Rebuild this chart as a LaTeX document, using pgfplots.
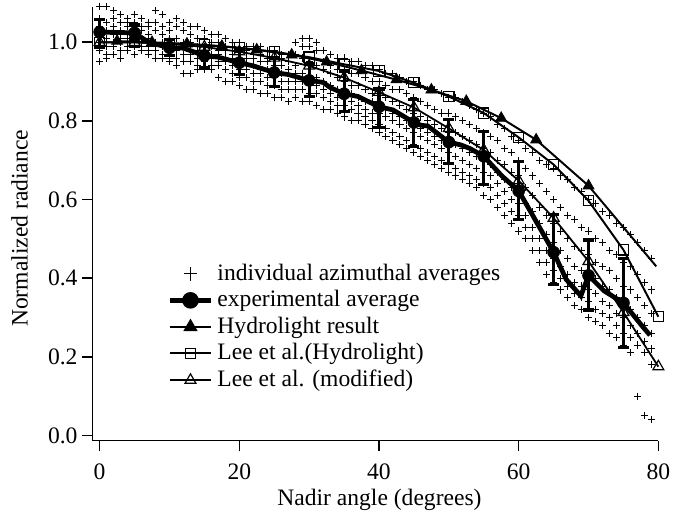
\documentclass[border=0pt]{standalone}
\usepackage{fontspec}
\setmainfont{Liberation Serif}
\usepackage{pgfplots}
\usepackage{pgfplotstable}
\pgfplotsset{compat=1.18}

\pgfplotstableread{
x a b c d e f g
0 1.09 1.06 1.04 1.02 1.00 0.98 0.95
1 1.09 1.05 1.03 1.01 0.99 0.97 0.96
2 1.08 1.06 1.04 1.02 1.00 0.99 0.97
3 1.07 1.05 1.03 1.01 1.00 0.98 0.96
4 1.06 1.05 1.04 1.02 1.01 0.99 0.98
5 1.07 1.05 1.03 1.02 1.00 0.99 0.97
6 1.06 1.04 1.03 1.01 1.00 0.99 0.98
7 1.05 1.04 1.02 1.01 0.99 0.98 0.97
8 1.08 1.05 1.03 1.00 0.99 0.98 0.96
9 1.07 1.04 1.02 1.00 0.99 0.97 0.96
10 1.05 1.03 1.01 0.99 0.98 0.96 0.95
11 1.06 1.04 1.01 0.99 0.98 0.96 0.94
12 1.05 1.03 1.00 0.99 0.97 0.95 0.92
13 1.04 1.02 1.00 0.98 0.97 0.95 0.92
14 1.04 1.01 0.99 0.98 0.96 0.94 0.93
15 1.03 1.01 0.99 0.98 0.96 0.95 0.93
16 1.02 1.00 0.99 0.97 0.96 0.94 0.93
17 1.02 1.00 0.98 0.97 0.95 0.94 0.91
18 1.01 0.99 0.98 0.96 0.95 0.93 0.90
19 1.00 0.99 0.97 0.96 0.94 0.92 0.90
20 1.00 0.98 0.97 0.95 0.93 0.91 0.89
21 0.99 0.98 0.96 0.94 0.93 0.91 0.88
22 0.99 0.97 0.96 0.94 0.92 0.90 0.88
23 0.99 0.97 0.95 0.93 0.92 0.90 0.87
24 0.98 0.96 0.95 0.93 0.91 0.89 0.87
25 0.98 0.96 0.94 0.92 0.91 0.89 0.86
26 0.97 0.96 0.94 0.92 0.90 0.88 0.86
27 0.97 0.95 0.93 0.92 0.90 0.88 0.85
28 1.00 0.97 0.94 0.92 0.90 0.88 0.86
29 1.01 0.99 0.96 0.92 0.90 0.88 0.85
30 1.01 0.99 0.95 0.91 0.89 0.87 0.85
31 1.00 0.98 0.94 0.91 0.89 0.87 0.84
32 0.98 0.95 0.93 0.90 0.88 0.86 0.83
33 0.97 0.94 0.92 0.89 0.87 0.85 0.83
34 0.96 0.93 0.91 0.88 0.86 0.84 0.82
35 0.96 0.93 0.90 0.88 0.86 0.84 0.81
36 0.95 0.92 0.89 0.87 0.85 0.83 0.80
37 0.95 0.92 0.89 0.86 0.84 0.82 0.80
38 0.94 0.91 0.88 0.85 0.83 0.81 0.79
39 0.94 0.90 0.87 0.85 0.82 0.80 0.78
40 0.93 0.90 0.87 0.84 0.82 0.79 0.77
41 0.92 0.89 0.86 0.83 0.81 0.78 0.76
42 0.92 0.88 0.85 0.82 0.80 0.77 0.75
43 0.91 0.88 0.84 0.81 0.79 0.76 0.74
44 0.90 0.87 0.83 0.80 0.78 0.75 0.73
45 0.90 0.86 0.82 0.79 0.77 0.74 0.72
46 0.89 0.85 0.81 0.78 0.76 0.73 0.71
47 0.88 0.84 0.80 0.77 0.75 0.72 0.70
48 0.88 0.83 0.79 0.76 0.74 0.71 0.69
49 0.87 0.82 0.78 0.75 0.73 0.70 0.68
50 0.86 0.82 0.77 0.74 0.72 0.69 0.67
51 0.86 0.81 0.77 0.74 0.71 0.68 0.66
52 0.85 0.80 0.76 0.73 0.70 0.67 0.65
53 0.84 0.79 0.75 0.72 0.69 0.66 0.64
54 0.83 0.78 0.74 0.71 0.68 0.65 0.63
55 0.82 0.77 0.73 0.70 0.67 0.64 0.61
56 0.81 0.76 0.72 0.69 0.66 0.63 0.60
57 0.79 0.75 0.70 0.67 0.64 0.61 0.58
58 0.78 0.73 0.69 0.65 0.62 0.59 0.56
59 0.76 0.72 0.67 0.63 0.60 0.57 0.54
60 0.75 0.70 0.66 0.62 0.59 0.56 0.52
61 0.73 0.68 0.63 0.59 0.56 0.53 0.50
62 0.72 0.66 0.61 0.57 0.53 0.50 0.47
63 0.70 0.64 0.58 0.54 0.50 0.47 0.44
64 0.69 0.62 0.56 0.51 0.47 0.44 0.41
65 0.68 0.60 0.54 0.49 0.45 0.42 0.39
66 0.66 0.58 0.52 0.47 0.43 0.40 0.37
67 0.65 0.56 0.50 0.45 0.41 0.38 0.35
68 0.63 0.55 0.48 0.43 0.39 0.36 0.33
69 0.62 0.53 0.47 0.42 0.38 0.35 0.32
70 0.60 0.52 0.46 0.41 0.37 0.34 0.30
71 0.59 0.50 0.44 0.40 0.36 0.32 0.29
72 0.57 0.49 0.43 0.38 0.34 0.31 0.28
73 0.56 0.47 0.42 0.37 0.33 0.30 0.26
74 0.54 0.46 0.40 0.35 0.31 0.28 0.25
75 0.53 0.44 0.38 0.34 0.30 0.26 0.23
76 0.51 0.43 0.37 0.32 0.28 0.25 0.21
77 0.49 0.41 0.35 0.30 0.26 0.23 0.10
78 0.47 0.39 0.33 0.28 0.24 0.21 0.05
79 0.45 0.37 0.31 0.26 0.22 0.18 0.04
}\scatterdata

\pgfplotstableread{
x y
0 1.026
5 1.024
7 1.0
10 0.986
12 0.985
15 0.966
17 0.962
20 0.948
22 0.94
25 0.923
27 0.918
30 0.903
32 0.898
33 0.885
35 0.869
37 0.862
40 0.836
42 0.828
45 0.796
46 0.789
47 0.787
50 0.746
51.7 0.739
53 0.73
55 0.71
57.6 0.66
60 0.622
62 0.56
65 0.466
66.8 0.397
68.9 0.355
70 0.407
72.2 0.368
75 0.337
77.6 0.28
78.8 0.255
}\expline

\pgfplotstableread{
x y ep em
0 1.026 0.031 0.039
5 1.024 0.020 0.018
10 0.986 0.020 0.020
15 0.966 0.025 0.030
20 0.948 0.034 0.029
25 0.923 0.035 0.035
30 0.903 0.040 0.040
35 0.869 0.058 0.046
40 0.836 0.045 0.053
45 0.796 0.058 0.061
50 0.746 0.058 0.055
55 0.710 0.063 0.071
60 0.622 0.074 0.073
65 0.466 0.096 0.082
70 0.407 0.090 0.088
75 0.337 0.113 0.113
}\expmarks

\pgfplotstableread{
x y
2.5 1.003
7.5 1.0
12.5 0.996
17.5 0.99
22.5 0.981
27.5 0.968
32.5 0.95
37.5 0.928
42.5 0.905
47.5 0.879
52.5 0.85
57.5 0.807
62.5 0.752
70 0.635
}\hydro

\pgfplotstableread{
x y
2.5 1.003
7.5 1.0
12.5 0.996
17.5 0.99
22.5 0.981
27.5 0.968
32.5 0.95
37.5 0.928
42.5 0.905
47.5 0.879
52.5 0.85
57.5 0.807
62.5 0.752
70 0.635
79.7 0.43
}\hydroline

\pgfplotstableread{
x y
0 1.0
5 1.0
10 0.997
15 0.993
20 0.986
25 0.976
30 0.962
35 0.944
40 0.927
45 0.897
50 0.862
55 0.82
60 0.758
65 0.689
70 0.597
75 0.472
80 0.302
}\leehydro

\pgfplotstableread{
x y
0 1.0
5 1.0
10 0.996
15 0.988
20 0.976
25 0.96
30 0.94
35 0.91
40 0.873
45 0.834
50 0.781
55 0.726
60 0.648
65 0.553
70 0.443
75 0.313
80 0.175
}\leemod

\begin{document}
\fontsize{12}{14.4}\selectfont
\begin{tikzpicture}
\begin{axis}[
  name=ax, at={(0,0)}, anchor=south west,
  scale only axis, width=287bp, height=220bp,
  xmin=-1, xmax=80, ymin=-0.013, ymax=1.09,
  clip=false,
  axis lines=left,
  axis line style={-, line width=0.8bp},
  tick align=outside,
  major tick length=5.5bp,
  tick style={line width=0.8bp, black},
  xtick={0,20,40,60,80},
  ytick={0,0.2,0.4,0.6,0.8,1.0},
  minor tick num=0,
  /pgf/number format/assume math mode=true,
  yticklabel style={/pgf/number format/.cd, fixed, fixed zerofill, precision=1, /tikz/.cd, xshift=2bp},
  xticklabel style={/pgf/number format/.cd, fixed, precision=0, /tikz/.cd, yshift=-2bp},
  ticklabel style={font=\fontsize{12}{14.4}\selectfont},
  xlabel={Nadir angle (degrees)},
  ylabel={Normalized radiance},
  xlabel style={at={(axis description cs:0.507,-0.136)}, anchor=center, font=\fontsize{12}{14.4}\selectfont},
  ylabel style={at={(axis description cs:-0.129,0.489)}, anchor=center, font=\fontsize{12}{14.4}\selectfont},
  legend style={draw=none, fill=none, at={(axis description cs:0.128,0.422)}, anchor=north west,
    row sep=-0.6bp, font=\fontsize{12}{14.4}\selectfont, inner sep=1bp},
  legend cell align=left,
  legend image code/.code={\draw[mark repeat=2,mark phase=2,#1] plot coordinates {(0bp,0bp) (10.5bp,0bp) (21bp,0bp)};},
]
% individual azimuthal averages
\foreach \c in {a,b,c,d,e,f,g}{
  \addplot[only marks, mark=+, mark size=1.8bp, line width=0.5bp, black, forget plot] table[x=x, y=\c] {\scatterdata};
}
% Lee et al. (modified)
\addplot[black, line width=0.9bp, mark=triangle, mark size=3.2bp, mark options={solid, fill=white, line width=0.6bp}, forget plot] table {\leemod};
% Lee et al. (Hydrolight)
\addplot[black, line width=1bp, mark=square, mark size=2.6bp, mark options={solid, fill=white, line width=0.6bp}, forget plot] table {\leehydro};
% Hydrolight result
\addplot[black, line width=1bp, forget plot] table {\hydroline};
\addplot[black, only marks, mark=triangle*, mark size=3.2bp, forget plot] table {\hydro};
% experimental average
\addplot[black, line width=2.4bp, forget plot] table {\expline};
\addplot[black, only marks, mark=*, mark size=3bp, forget plot,
  error bars/.cd, y dir=both, y explicit,
  error bar style={line width=1.6bp},
  error mark options={rotate=90, mark size=2.8bp, line width=1.6bp}]
  table[x=x, y=y, y error plus=ep, y error minus=em] {\expmarks};

\addlegendimage{only marks, mark=+, mark size=3.5bp, line width=0.5bp, black}
\addlegendentry{individual azimuthal averages}
\addlegendimage{black, line width=2.4bp, mark=*, mark size=3bp}
\addlegendentry{experimental average}
\addlegendimage{black, line width=1bp, mark=triangle*, mark size=3.2bp}
\addlegendentry{Hydrolight result}
\addlegendimage{black, line width=1bp, mark=square, mark size=2.6bp, mark options={solid, fill=white, line width=0.6bp}}
\addlegendentry{Lee et al.(Hydrolight)}
\addlegendimage{black, line width=0.9bp, mark=triangle, mark size=3.2bp, mark options={solid, fill=white, line width=0.6bp}}
\addlegendentry{Lee et al. (modified)}
\end{axis}
\path ([shift={(-47bp,-39bp)}]ax.south west) rectangle ([shift={(5bp,3.5bp)}]ax.north east);
\end{tikzpicture}
\end{document}
